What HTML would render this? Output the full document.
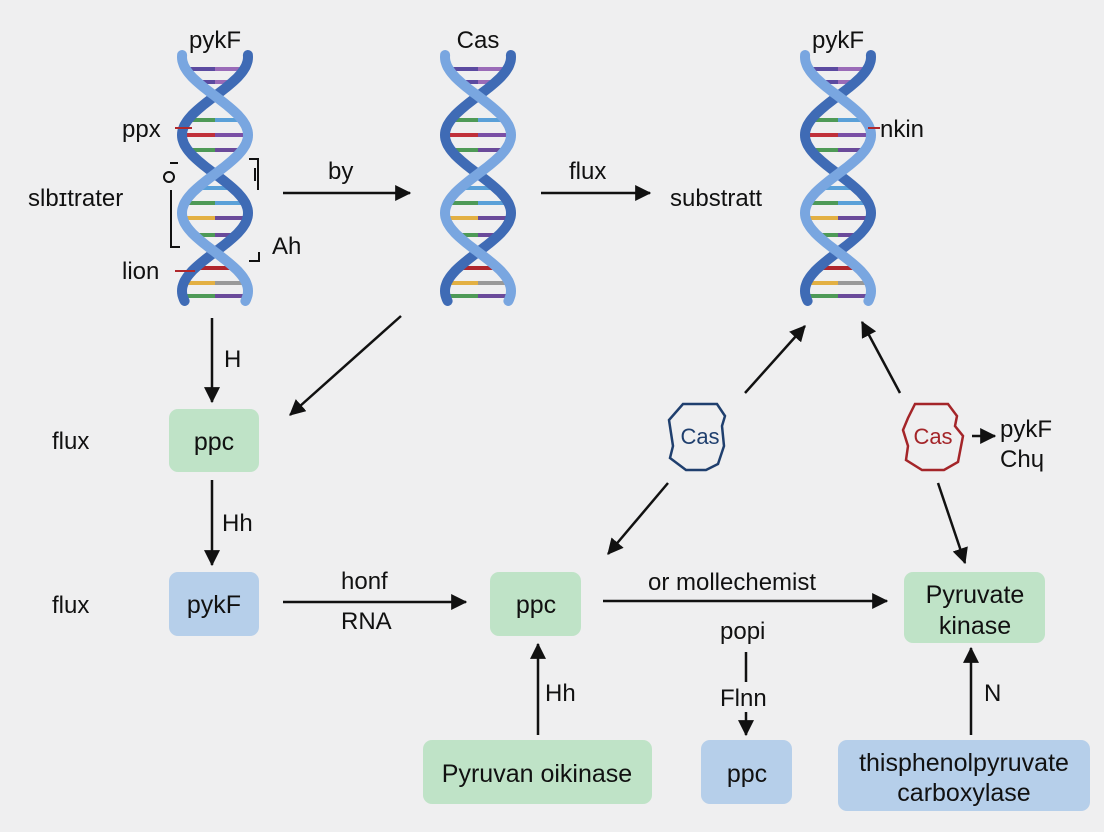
<!DOCTYPE html>
<html><head><meta charset="utf-8">
<style>
html,body{margin:0;padding:0;background:#efeff0;}
svg{display:block;}
text{font-family:"Liberation Sans",sans-serif;fill:#111;}
</style></head>
<body>
<svg id="s" width="1104" height="832" viewBox="0 0 1104 832" xmlns="http://www.w3.org/2000/svg">
<defs>
<marker id="ah" markerWidth="16" markerHeight="16" refX="13" refY="7" orient="auto" markerUnits="userSpaceOnUse" viewBox="0 0 14 14">
<path d="M0,0 L14,7 L0,14 z" fill="#111"/></marker>
</defs>
<rect width="1104" height="832" fill="#efeff0"/>
<g id="helices"></g>

<g font-size="24" text-anchor="middle">
<text x="215" y="48">pykF</text>
<text x="478" y="48">Cas</text>
<text x="838" y="48">pykF</text>
</g>
<g font-size="24">
<text x="122" y="137">ppx</text>
<text x="28" y="206">slbɪtrater</text>
<text x="122" y="279">lion</text>
<text x="272" y="254">Ah</text>
<text x="880" y="137">nkin</text>
<text x="670" y="206">substratt</text>
<text x="328" y="179">by</text>
<text x="569" y="179">flux</text>
<text x="52" y="449">flux</text>
<text x="52" y="613">flux</text>
<text x="224" y="367">H</text>
<text x="222" y="531">Hh</text>
<text x="341" y="589">honf</text>
<text x="341" y="629">RNA</text>
<text x="648" y="590">or mollechemist</text>
<text x="720" y="639">popi</text>
<text x="720" y="706">Flnn</text>
<text x="545" y="701">Hh</text>
<text x="984" y="701">N</text>
<text x="1000" y="437">pykF</text>
<text x="1000" y="467">Chɥ</text>
</g>
<g stroke="#b0282c" stroke-width="2">
<line x1="175" y1="128" x2="192" y2="128"/>
<line x1="175" y1="271" x2="195" y2="271"/>
<line x1="868" y1="128" x2="880" y2="128"/>
</g>
<g stroke="#111" stroke-width="2" fill="none">
<path d="M170,163 L178,163"/>
<circle cx="169" cy="177" r="5"/>
<path d="M171,190 L171,247 L180,247"/>
<path d="M249,159 L258,159 L258,190"/>
<path d="M255,168 L255,181"/>
<path d="M249,261 L259,261 L259,252"/>
</g>

<g>
<rect x="169" y="409" width="90" height="63" rx="9" fill="#bfe3c7"/>
<rect x="169" y="572" width="90" height="64" rx="9" fill="#b6cfea"/>
<rect x="490" y="572" width="91" height="64" rx="9" fill="#bfe3c7"/>
<rect x="904" y="572" width="141" height="71" rx="9" fill="#bfe3c7"/>
<rect x="423" y="740" width="229" height="64" rx="9" fill="#bfe3c7"/>
<rect x="701" y="740" width="91" height="64" rx="9" fill="#b6cfea"/>
<rect x="838" y="740" width="252" height="71" rx="9" fill="#b6cfea"/>
</g>
<g font-size="25" text-anchor="middle">
<text x="214" y="450">ppc</text>
<text x="214" y="613">pykF</text>
<text x="536" y="613">ppc</text>
<text x="975" y="603">Pyruvate</text>
<text x="975" y="634">kinase</text>
<text x="537" y="782">Pyruvan oikinase</text>
<text x="747" y="782">ppc</text>
<text x="964" y="771">thisphenolpyruvate</text>
<text x="964" y="801">carboxylase</text>
</g>

<path d="M683,404 L717,404 L725,416 L722,426 L724,446 L718,464 L706,470 L686,470 L670,458 L673,446 L669,420 Z" fill="none" stroke="#1f3f6e" stroke-width="2.5"/>
<text x="700" y="444" font-size="22" text-anchor="middle" style="fill:#1f3f6e">Cas</text>
<path d="M915,404 L948,404 L957,416 L955,426 L963,436 L958,462 L944,470 L922,470 L906,460 L908,446 L903,430 L908,418 Z" fill="none" stroke="#a42529" stroke-width="2.5"/>
<text x="933" y="444" font-size="22" text-anchor="middle" style="fill:#a42529">Cas</text>

<g stroke="#111" stroke-width="2.5" marker-end="url(#ah)" fill="none">
<line x1="283" y1="193" x2="410" y2="193"/>
<line x1="541" y1="193" x2="650" y2="193"/>
<line x1="401" y1="316" x2="290" y2="415"/>
<line x1="212" y1="318" x2="212" y2="402"/>
<line x1="212" y1="480" x2="212" y2="565"/>
<line x1="283" y1="602" x2="466" y2="602"/>
<line x1="603" y1="601" x2="887" y2="601"/>
<line x1="746" y1="712" x2="746" y2="735"/>
<line x1="538" y1="735" x2="538" y2="644"/>
<line x1="971" y1="735" x2="971" y2="648"/>
<line x1="745" y1="393" x2="805" y2="326"/>
<line x1="900" y1="393" x2="862" y2="322"/>
<line x1="668" y1="483" x2="608" y2="554"/>
<line x1="938" y1="483" x2="965" y2="563"/>
<line x1="972" y1="436" x2="995" y2="436"/>
</g>
<line x1="746" y1="652" x2="746" y2="682" stroke="#111" stroke-width="2.5"/>
</svg>
<script>
(function(){
var g=document.getElementById('helices');var ns='http://www.w3.org/2000/svg';
function el(n,a){var e=document.createElementNS(ns,n);for(var k in a)e.setAttribute(k,a[k]);g.appendChild(e);return e;}
var rungs=[['#5b4aa0','#9a6bb8'],['#5b4aa0','#9a6bb8'],['#4e9a57','#5aa0d8'],['#c0303a','#7a4fa5'],['#4e9a57','#6a4a9a'],['#5aa0d8','#5aa0d8'],['#4e9a57','#5aa0d8'],['#e3b043','#6a4a9a'],['#4e9a57','#6a4a9a'],['#5aa0d8','#5aa0d8'],['#b0262c','#b0262c'],['#e3b043','#999'],['#4e9a57','#6a4a9a']];
var ry=[69,82,120,135,150,188,203,218,235,253,268,283,296];
function helix(cx){
 var A=33,y0=55,y1=302,P=78,ph=57;
 function x(y,s){return cx+s*A*Math.cos(Math.PI*(y-ph)/P);}
 ry.forEach(function(y,i){var w=Math.abs(x(y,1)-cx)-3;if(w<4)return;
  el('line',{x1:cx-w,y1:y,x2:cx,y2:y,stroke:rungs[i][0],'stroke-width':4});
  el('line',{x1:cx,y1:y,x2:cx+w,y2:y,stroke:rungs[i][1],'stroke-width':4});});
 [[1,'#3f6bb5'],[-1,'#79a6e0']].forEach(function(s){
  var d='';for(var y=y0;y<=y1;y+=2){d+=(y==y0?'M':'L')+x(y,s[0]).toFixed(1)+','+y;}
  el('path',{d:d,fill:'none',stroke:s[1],'stroke-width':10,'stroke-linecap':'round'});});
}
helix(215);helix(478);helix(838);
})();
</script>
</body></html>
